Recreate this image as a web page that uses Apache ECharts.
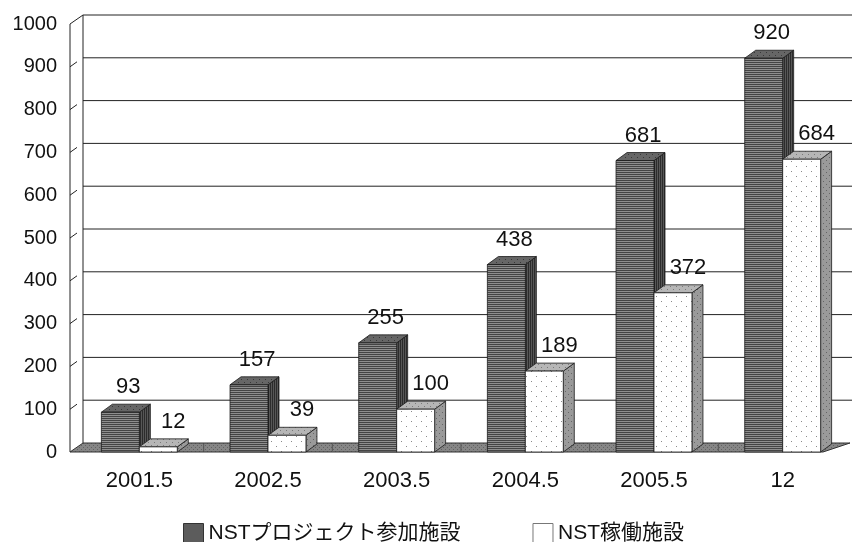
<!DOCTYPE html>
<html>
<head>
<meta charset="utf-8">
<script src="https://cdn.jsdelivr.net/npm/echarts@6/dist/echarts.min.js"></script>
<style>
  html, body { margin: 0; padding: 0; background: #fff; }
  #chart { width: 852px; height: 542px; }
</style>
</head>
<body>
<div id="chart"></div>
<script>
// Survey dates and facility counts
const categories = ['2001.5', '2002.5', '2003.5', '2004.5', '2005.5', '12'];
const participating = [93, 157, 255, 438, 681, 920];   // NSTプロジェクト参加施設
const operating = [12, 39, 100, 189, 372, 684];        // NST稼働施設
const seriesNames = ['NSTプロジェクト参加施設', 'NST稼働施設'];
const yTicks = [0, 100, 200, 300, 400, 500, 600, 700, 800, 900, 1000];

const FONT = "'Liberation Sans', 'Noto Sans CJK JP', Arial, sans-serif";

// Small repeating textures for the printed-look faces
function makePattern(w, h, draw) {
  const c = document.createElement('canvas');
  c.width = w; c.height = h;
  const g = c.getContext('2d');
  draw(g, w, h);
  return { image: c, repeat: 'repeat' };
}
function dots(base, dot, step, r) {
  return makePattern(step * 2, step * 2, (g, w, h) => {
    g.fillStyle = base; g.fillRect(0, 0, w, h);
    g.fillStyle = dot;
    g.fillRect(1, 1, r, r);
    g.fillRect(step + 1, step + 1, r, r);
  });
}
const tex = {
  darkFront: makePattern(4, 2, (g, w, h) => {
    g.fillStyle = '#8e8e8e'; g.fillRect(0, 0, w, h);
    g.fillStyle = '#444444'; g.fillRect(0, 0, w, 1);
  }),
  darkTop: dots('#666666', '#383838', 3, 1),
  darkSide: makePattern(2, 4, (g, w, h) => {
    g.fillStyle = '#575757'; g.fillRect(0, 0, w, h);
    g.fillStyle = '#2c2c2c'; g.fillRect(0, 0, 1, h);
  }),
  whiteFront: dots('#ffffff', '#8a8a8a', 5, 1),
  whiteTop: dots('#b6b6b6', '#7a7a7a', 3, 1),
  whiteSide: dots('#9a9a9a', '#666666', 3, 1),
  floor: dots('#868686', '#626262', 2, 1)
};

const DEPTH_X = 11, DEPTH_Y = -8;      // bar depth
const WALL_X = 13, WALL_Y = -9;        // wall depth

function barRenderer(side, faces, labelShift) {
  return function (params, api) {
    const cat = api.value(0), v = api.value(1);
    const base = api.coord([cat, 0]);
    const top = api.coord([cat, v]);
    const band = api.size([1, 0])[0];
    const w = band * 0.295;
    const x = side === 0 ? base[0] - w : base[0];
    const y0 = base[1], yt = top[1];
    const stroke = { stroke: '#1a1a1a', lineWidth: 0.8 };
    return {
      type: 'group',
      children: [
        { type: 'polygon', shape: { points: [[x + w, yt], [x + w + DEPTH_X, yt + DEPTH_Y], [x + w + DEPTH_X, y0 + DEPTH_Y], [x + w, y0]] },
          style: Object.assign({ fill: faces.side }, stroke) },
        { type: 'polygon', shape: { points: [[x, yt], [x + DEPTH_X, yt + DEPTH_Y], [x + w + DEPTH_X, yt + DEPTH_Y], [x + w, yt]] },
          style: Object.assign({ fill: faces.top }, stroke) },
        { type: 'rect', shape: { x: x, y: yt, width: w, height: y0 - yt },
          style: Object.assign({ fill: faces.front }, stroke) },
        { type: 'text', x: x + w / 2 + labelShift, y: yt - 25,
          style: { text: String(v), fill: '#111', font: '22px ' + FONT, align: 'center', verticalAlign: 'middle' } }
      ]
    };
  };
}

// Back wall, left wall ticks and floor
function frameRenderer(params, api) {
  const cs = params.coordSys;
  const v = api.value(1);
  const yf = api.coord([0, v])[1];
  const xf = cs.x - 5;
  const xb = xf + WALL_X, yb = yf + WALL_Y;
  const rightEdge = cs.x + cs.width + 20;
  const line = { stroke: '#222', lineWidth: 1 };
  const children = [];
  if (params.dataIndex > 0) {
    children.push({ type: 'line', shape: { x1: xb, y1: yb, x2: rightEdge, y2: yb }, style: line });
    if (v === yTicks[yTicks.length - 1]) {
      children.push({ type: 'line', shape: { x1: xf, y1: yf, x2: xb, y2: yb }, style: line });
    } else {
      children.push({ type: 'line', shape: { x1: xf, y1: yf, x2: xf + 7, y2: yf - 5 }, style: line });
    }
  } else {
    const yTop = api.coord([0, yTicks[yTicks.length - 1]])[1];
    const floorRight = cs.x + cs.width - 24;
    // walls' vertical edges
    children.push({ type: 'line', shape: { x1: xb, y1: yb, x2: xb, y2: yTop + WALL_Y }, style: line });
    children.push({ type: 'line', shape: { x1: xf, y1: yf, x2: xf, y2: yTop }, style: line });
    children.push({ type: 'polygon',
      shape: { points: [[xf, yf], [floorRight, yf], [floorRight + 27, yb], [xb, yb]] },
      style: { fill: tex.floor, stroke: '#333', lineWidth: 1 } });
    const band = api.size([1, 0])[0];
    for (let k = 1; k < categories.length; k++) {
      const x = cs.x + k * band;
      children.push({ type: 'line', shape: { x1: x, y1: yf - 1, x2: x, y2: yb + 1 },
        style: { stroke: '#555', lineWidth: 1 } });
    }
  }
  return { type: 'group', children };
}

const chart = echarts.init(document.getElementById('chart'), null, { renderer: 'canvas' });
chart.setOption({
  animation: false,
  backgroundColor: '#fff',
  textStyle: { fontFamily: FONT },
  grid: { left: 75, right: 5, top: 24, bottom: 90, containLabel: false },
  legend: {
    left: 178, top: 518,
    itemWidth: 20, itemHeight: 20, itemGap: 72,
    selectedMode: false,
    textStyle: { fontSize: 21, color: '#111', fontFamily: FONT },
    data: [
      { name: seriesNames[0], icon: 'rect', itemStyle: { color: '#5c5c5c', borderColor: '#333', borderWidth: 1 } },
      { name: seriesNames[1], icon: 'rect', itemStyle: { color: '#ffffff', borderColor: '#777', borderWidth: 1 } }
    ]
  },
  xAxis: {
    type: 'category',
    data: categories,
    boundaryGap: true,
    axisLine: { show: false },
    axisTick: { show: false },
    axisLabel: { margin: 18, fontSize: 22, color: '#111', fontFamily: FONT }
  },
  yAxis: {
    type: 'value',
    min: 0, max: 1000, interval: 100,
    axisLine: { show: false },
    axisTick: { show: false },
    splitLine: { show: false },
    axisLabel: { margin: 18, fontSize: 20, color: '#111', fontFamily: FONT, formatter: v => String(v) }
  },
  series: [
    {
      type: 'custom', name: 'frame', silent: true, z: 1,
      renderItem: frameRenderer,
      data: yTicks.map(v => [0, v])
    },
    {
      type: 'custom', name: seriesNames[0], z: 2,
      itemStyle: { color: '#5c5c5c' },
      renderItem: barRenderer(0, { front: tex.darkFront, top: tex.darkTop, side: tex.darkSide }, 8),
      data: participating.map((v, i) => [i, v])
    },
    {
      type: 'custom', name: seriesNames[1], z: 3,
      itemStyle: { color: '#ffffff' },
      renderItem: barRenderer(1, { front: tex.whiteFront, top: tex.whiteTop, side: tex.whiteSide }, 15),
      data: operating.map((v, i) => [i, v])
    }
  ]
});
</script>
</body>
</html>
